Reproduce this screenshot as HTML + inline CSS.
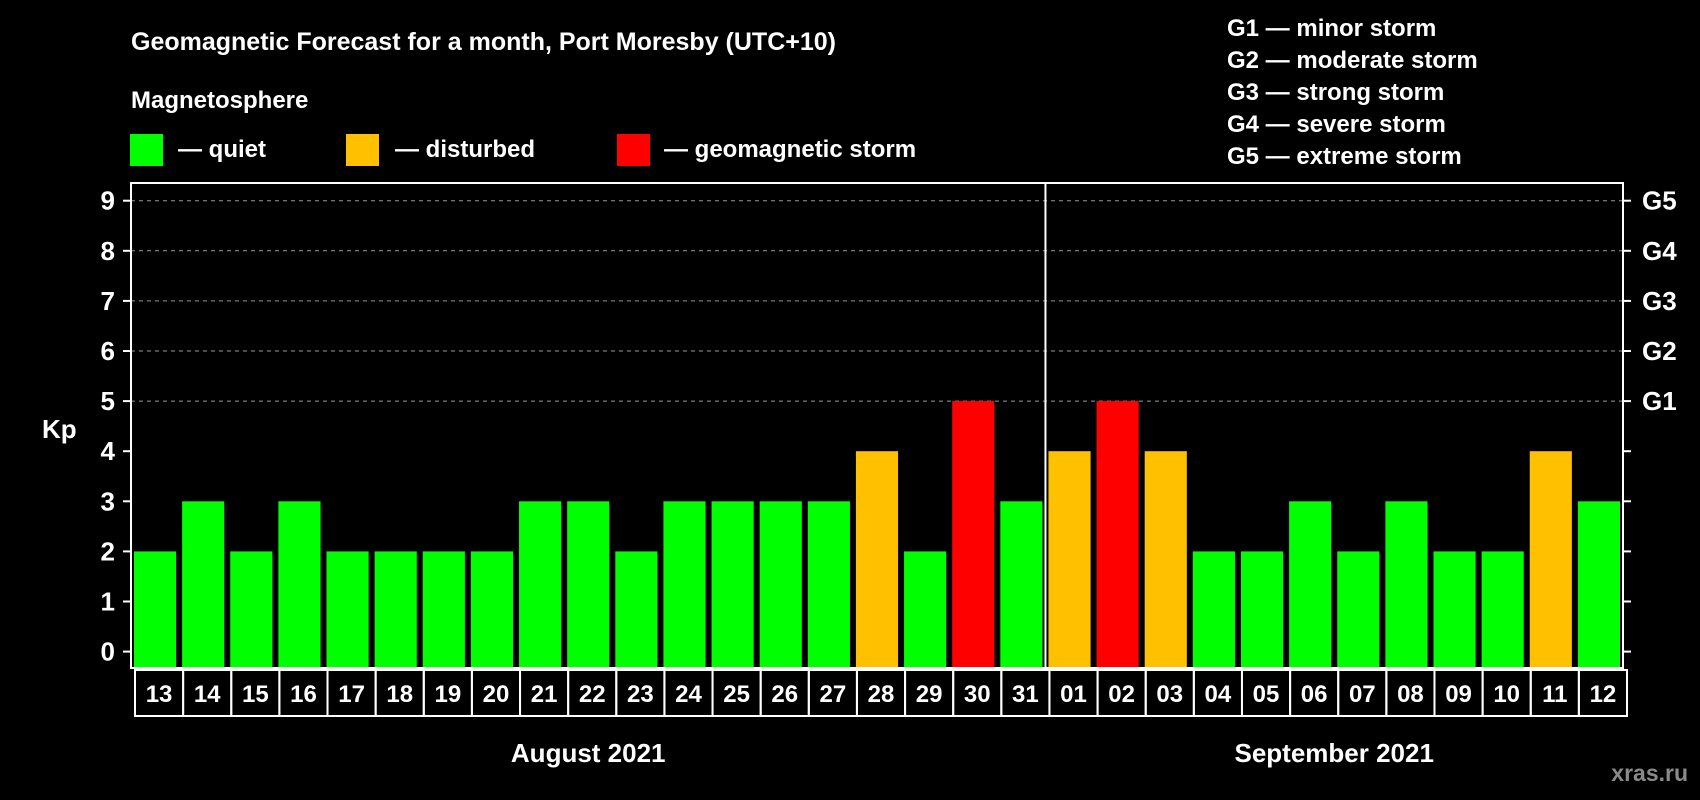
<!DOCTYPE html>
<html><head><meta charset="utf-8"><style>
html,body{margin:0;padding:0;background:#000;}
svg{display:block;font-family:"Liberation Sans",Arial,sans-serif;font-weight:bold;}
</style></head><body>
<svg id="chart" width="1700" height="800" viewBox="0 0 1700 800">
<rect width="1700" height="800" fill="#000"/>
<text x="131" y="50" fill="#fff" font-size="25">Geomagnetic Forecast for a month, Port Moresby (UTC+10)</text>
<text x="131" y="108" fill="#fff" font-size="24">Magnetosphere</text>
<g><rect x="130" y="134" width="33" height="32" fill="#00ff00"/><text x="178" y="157" fill="#fff" font-size="24">— quiet</text></g>
<g><rect x="346" y="134" width="33" height="32" fill="#ffc000"/><text x="395" y="157" fill="#fff" font-size="24">— disturbed</text></g>
<g><rect x="617" y="134" width="33" height="32" fill="#ff0000"/><text x="664" y="157" fill="#fff" font-size="24">— geomagnetic storm</text></g>
<g fill="#fff" font-size="24">
<text x="1227" y="36">G1 — minor storm</text>
<text x="1227" y="68">G2 — moderate storm</text>
<text x="1227" y="100">G3 — strong storm</text>
<text x="1227" y="132">G4 — severe storm</text>
<text x="1227" y="164">G5 — extreme storm</text>
</g>
<text x="42" y="438" fill="#fff" font-size="26">Kp</text>
<text x="1688" y="781" fill="#8a8a8a" font-size="23" text-anchor="end">xras.ru</text>
<g id="plot"></g>
</svg>
<script>
const days = ["13","14","15","16","17","18","19","20","21","22","23","24","25","26","27","28","29","30","31","01","02","03","04","05","06","07","08","09","10","11","12"];
const kp = [2,3,2,3,2,2,2,2,3,3,2,3,3,3,3,4,2,5,3,4,5,4,2,2,3,2,3,2,2,4,3];
const yTicks = [0,1,2,3,4,5,6,7,8,9];
const gLabels = ["G1","G2","G3","G4","G5"];
const months = ["August 2021","September 2021"];
const monthStartIdx = [0,19];

const NS="http://www.w3.org/2000/svg";
const L=131,R=1623,T=183,B=668;
const slot=(R-L)/days.length;
const y=v=>651.6-v*50.1;
const x=i=>L+i*slot;
const g=document.getElementById('plot');
function mk(tag,attrs){const e=document.createElementNS(NS,tag);for(const k in attrs)e.setAttribute(k,attrs[k]);g.appendChild(e);return e;}
yTicks.forEach(v=>{
  if(v>=5){const ln=mk('line',{x1:L,x2:R,y1:y(v),y2:y(v),stroke:'#999','stroke-dasharray':'4,4','stroke-width':1});
  
  }
  mk('line',{x1:L-8,x2:L,y1:y(v),y2:y(v),stroke:'#fff','stroke-width':2});
  mk('line',{x1:R,x2:R+8,y1:y(v),y2:y(v),stroke:'#fff','stroke-width':2});
  const t=mk('text',{x:115,y:y(v)+9,fill:'#fff','font-size':26,'text-anchor':'end'});t.textContent=v;
  
  
});
gLabels.forEach((s,i)=>{const t=mk('text',{x:1642,y:y(5+i)+9,fill:'#fff','font-size':26});t.textContent=s;
  
  });
kp.forEach((v,i)=>{
  const c=v>=5?'#ff0000':(v>=4?'#ffc000':'#00ff00');
  const r=mk('rect',{x:x(i)+3,y:y(v),width:slot-6,height:B-y(v),fill:c});
  
  
  const b=mk('rect',{x:x(i)+4,y:670,width:slot,height:46,fill:'none',stroke:'#fff','stroke-width':2});
  
  
  const t=mk('text',{x:x(i)+4+slot/2,y:702,fill:'#fff','font-size':24,'text-anchor':'middle'});t.textContent=days[i];
  
  
});
const fr=mk('rect',{x:L,y:T,width:R-L,height:B-T,fill:'none',stroke:'#fff','stroke-width':2});


const sep=mk('line',{x1:x(monthStartIdx[1]),x2:x(monthStartIdx[1]),y1:T,y2:B,stroke:'#fff','stroke-width':2});


months.forEach((m,k)=>{
  const s=monthStartIdx[k],e=k+1<monthStartIdx.length?monthStartIdx[k+1]:days.length;
  const t=mk('text',{x:(x(s)+x(e))/2,y:762,fill:'#fff','font-size':26,'text-anchor':'middle'});t.textContent=m;
  
  
});
</script>
</body></html>
